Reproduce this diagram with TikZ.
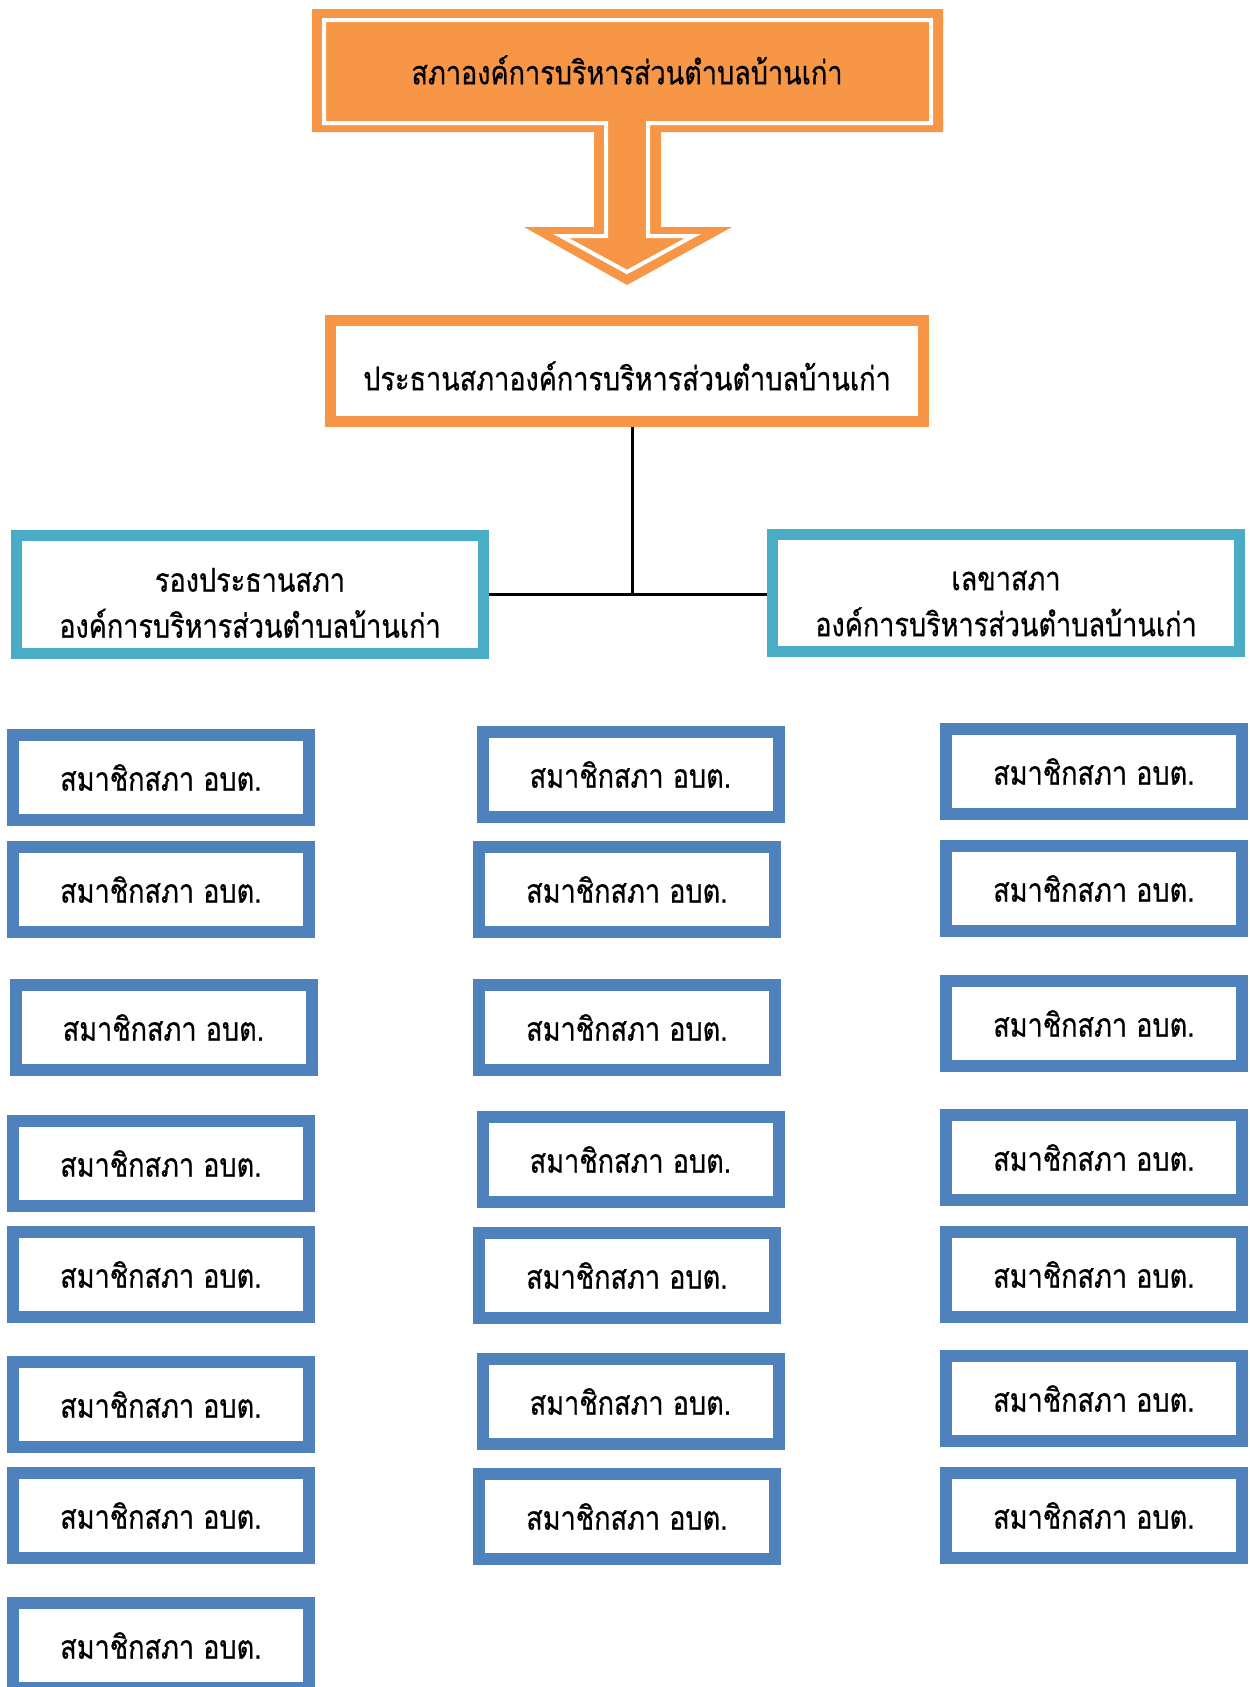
\documentclass[tikz,border=0pt]{standalone}
\usepackage{fontspec}
\newfontfamily\thaifont[Script=Thai, FakeStretch=0.82, FakeBold=0.6]{Loma}
\definecolor{calloutorange}{HTML}{F79646}
\definecolor{lightblue}{HTML}{4BACC6}
\definecolor{memberblue}{HTML}{4F81BD}
\newcommand{\thaitext}{\thaifont\fontsize{33}{46}\selectfont}
\newcommand{\lowered}[2]{\raisebox{-#1}[\height][\depth]{#2}}
\newcommand{\twolines}[2]{\lowered{11pt}{\begin{tabular}{@{}c@{}}#1\\#2\end{tabular}}}
\tikzset{
  member/.style={draw=memberblue, line width=12pt, fill=white, minimum width=296pt, minimum height=85pt, inner sep=0pt, font=\thaitext},
  deputy/.style={draw=lightblue, line width=11pt, fill=white, minimum width=467pt, minimum height=118pt, inner sep=0pt, font=\thaitext},
  chairbox/.style={draw=calloutorange, line width=11pt, fill=white, minimum width=593pt, minimum height=101pt, inner sep=0pt, font=\thaitext},
  link/.style={draw=black, line width=3pt}
}
\begin{document}
\begin{tikzpicture}[x=1pt,y=-1pt]
\useasboundingbox (0,0) rectangle (1250,1687);
\clip (0,0) rectangle (1250,1687);
% callout shape
\fill[calloutorange] (312,9) -- (943,9) -- (943,132) -- (661,132) -- (661,227) -- (732,227) -- (627,285) -- (524,227) -- (594,227) -- (594,132) -- (312,132) -- cycle;
\draw[white, line width=4pt, line join=miter] (606,123) -- (324,123) -- (324,20) -- (931,20) -- (931,123) -- (648,123) -- (648,236) -- (693,236) -- (627,272) -- (561,236) -- (606,236) -- cycle;
\node[font=\thaitext] (title) at (627,70) {สภาองค์การบริหารส่วนตำบลบ้านเก่า};
% chair
\node[chairbox] (chair) at (627,371) {\lowered{5pt}{ประธานสภาองค์การบริหารส่วนตำบลบ้านเก่า}};
\node[deputy] (vice) at (250,594.5) {\twolines{รองประธานสภา}{องค์การบริหารส่วนตำบลบ้านเก่า}};
\node[deputy, minimum height=117pt] (sec) at (1006,593) {\twolines{เลขาสภา}{องค์การบริหารส่วนตำบลบ้านเก่า}};
\coordinate (junction) at (632,594);
\draw[link] (chair.south -| junction) -- (junction);
\draw[link] (vice.east) -- (sec.west |- vice.east);
% left column
\node[member] (l1) at (161,777.5) {สมาชิกสภา อบต.};
\node[member] (l2) at (161,889.5) {สมาชิกสภา อบต.};
\node[member] (l3) at (163.5,1027.5) {สมาชิกสภา อบต.};
\node[member] (l4) at (161,1163.5) {สมาชิกสภา อบต.};
\node[member] (l5) at (161,1274.5) {สมาชิกสภา อบต.};
\node[member] (l6) at (161,1404.5) {สมาชิกสภา อบต.};
\node[member] (l7) at (161,1515.5) {สมาชิกสภา อบต.};
\node[member] (l8) at (161,1645.5) {สมาชิกสภา อบต.};
% middle column
\node[member] (m1) at (630.5,774.5) {สมาชิกสภา อบต.};
\node[member] (m2) at (627,889.5) {สมาชิกสภา อบต.};
\node[member] (m3) at (627,1027.5) {สมาชิกสภา อบต.};
\node[member] (m4) at (630.5,1159.5) {สมาชิกสภา อบต.};
\node[member] (m5) at (627,1275.5) {สมาชิกสภา อบต.};
\node[member] (m6) at (630.5,1401.5) {สมาชิกสภา อบต.};
\node[member] (m7) at (627,1516.5) {สมาชิกสภา อบต.};
% right column
\node[member] (r1) at (1094,771.5) {สมาชิกสภา อบต.};
\node[member] (r2) at (1094,888.5) {สมาชิกสภา อบต.};
\node[member] (r3) at (1094,1023.5) {สมาชิกสภา อบต.};
\node[member] (r4) at (1094,1157.5) {สมาชิกสภา อบต.};
\node[member] (r5) at (1094,1274.5) {สมาชิกสภา อบต.};
\node[member] (r6) at (1094,1398.5) {สมาชิกสภา อบต.};
\node[member] (r7) at (1094,1515.5) {สมาชิกสภา อบต.};
\end{tikzpicture}
\end{document}
